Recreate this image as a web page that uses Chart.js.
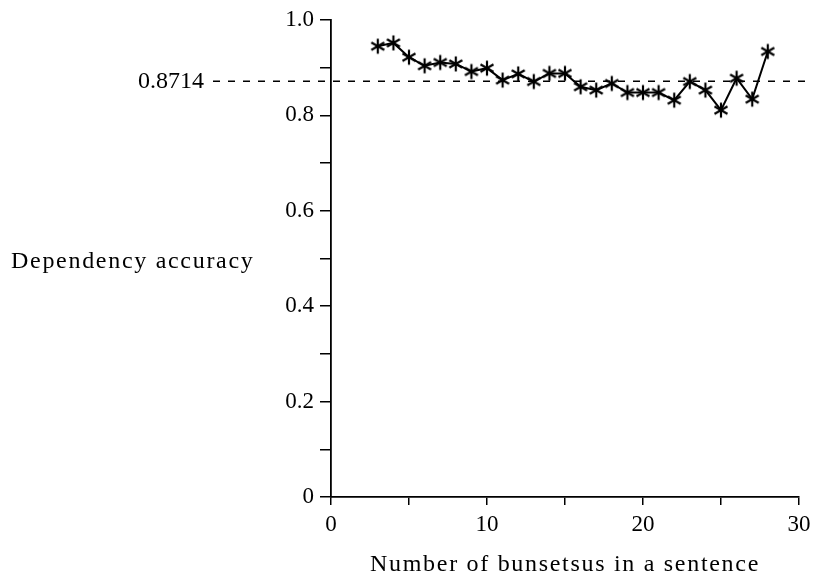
<!DOCTYPE html>
<html>
<head>
<meta charset="utf-8">
<script src="https://cdn.jsdelivr.net/npm/chart.js@4"></script>
<style>
  html, body { margin: 0; padding: 0; background: #fff; }
  #wrap { width: 819px; height: 573px; position: relative; }
</style>
</head>
<body>
<div id="wrap"><canvas id="c" width="819" height="573"></canvas></div>
<script>
// ---- data ----
const bunsetsuCounts = [3, 4, 5, 6, 7, 8, 9, 10, 11, 12, 13, 14, 15, 16, 17, 18, 19, 20, 21, 22, 23, 24, 25, 26, 27, 28];
const accuracy = [0.945, 0.952, 0.922, 0.904, 0.911, 0.908, 0.892, 0.899, 0.874, 0.887, 0.871, 0.888, 0.888, 0.860, 0.853, 0.867, 0.848, 0.848, 0.848, 0.832, 0.871, 0.853, 0.811, 0.878, 0.834, 0.934];
const averageAccuracy = 0.8714;
const averageLabel = "0.8714";
const xTitle = "Number of bunsetsus in a sentence";
const yTitle = "Dependency accuracy";

const SERIF = "'Liberation Serif', 'Times New Roman', serif";

// six-armed asterisk marker
const star = document.createElement('canvas');
star.width = 18; star.height = 18;
(function () {
  const g = star.getContext('2d');
  g.strokeStyle = '#000';
  g.lineWidth = 2.2;
  g.lineCap = 'butt';
  const c = 9, r = 7.5;
  for (let k = 0; k < 3; k++) {
    const a = Math.PI / 2 + k * Math.PI / 3;
    g.beginPath();
    g.moveTo(c + r * Math.cos(a), c + r * Math.sin(a));
    g.lineTo(c - r * Math.cos(a), c - r * Math.sin(a));
    g.stroke();
  }
})();

const textPlugin = {
  id: 'annot',
  afterDraw(chart) {
    const ctx = chart.ctx;
    const ca = chart.chartArea;
    const ys = chart.scales.y;
    ctx.save();
    const yy = ys.getPixelForValue(averageAccuracy);
    ctx.strokeStyle = '#000';
    ctx.lineWidth = 1.5;
    ctx.setLineDash([7, 8]);
    ctx.beginPath();
    ctx.moveTo(ca.left - 118, yy);
    ctx.lineTo(ca.right + 9, yy);
    ctx.stroke();
    ctx.setLineDash([]);
    ctx.fillStyle = '#000';
    ctx.font = "24px " + SERIF;
    ctx.textAlign = 'right';
    ctx.textBaseline = 'middle';
    ctx.fillText(averageLabel, ca.left - 127, yy);
    ctx.letterSpacing = '1.7px';
    ctx.textAlign = 'left';
    ctx.fillText(yTitle, 11, ys.getPixelForValue(0.5) + 3);
    ctx.textAlign = 'center';
    ctx.fillText(xTitle, (ca.left + ca.right) / 2, ca.bottom + 68);
    ctx.restore();
  }
};

new Chart(document.getElementById('c'), {
  type: 'line',
  data: {
    datasets: [{
      data: bunsetsuCounts.map((x, i) => ({ x: x, y: accuracy[i] })),
      borderColor: '#000',
      backgroundColor: '#000',
      borderWidth: 2,
      pointStyle: star,
      pointRadius: 7,
      tension: 0,
      fill: false
    }]
  },
  options: {
    responsive: false,
    animation: false,
    layout: { padding: { top: 20, right: 20, left: 0, bottom: 0 } },
    plugins: { legend: { display: false }, tooltip: { enabled: false } },
    scales: {
      x: {
        type: 'linear',
        min: 0, max: 30,
        afterFit(s) { s.height = 76; },
        border: { display: true, color: '#000', width: 1.8 },
        grid: { drawOnChartArea: false, drawTicks: true, tickLength: 8, color: '#000', lineWidth: 1.5 },
        ticks: {
          stepSize: 5,
          color: '#000',
          padding: 6,
          maxRotation: 0,
          font: { family: SERIF, size: 23 },
          callback: v => (v % 10 === 0 ? String(v) : '')
        }
      },
      y: {
        min: 0, max: 1,
        afterFit(s) { s.width = 331; },
        border: { display: true, color: '#000', width: 1.8 },
        grid: { drawOnChartArea: false, drawTicks: true, tickLength: 11, color: '#000', lineWidth: 1.5 },
        ticks: {
          stepSize: 0.1,
          color: '#000',
          padding: 6,
          font: { family: SERIF, size: 23 },
          callback: v => {
            const k = Math.round(v * 10);
            if (k % 2 !== 0) return '';
            return k === 0 ? '0' : (k / 10).toFixed(1);
          }
        }
      }
    }
  },
  plugins: [textPlugin]
});
</script>
</body>
</html>
